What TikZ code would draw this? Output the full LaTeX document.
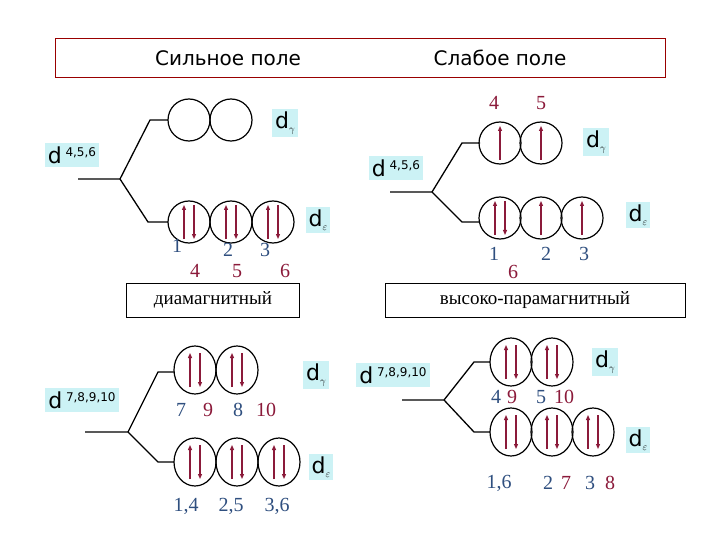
\documentclass[tikz,border=0pt]{standalone}
\usepackage{fontspec}
\setmainfont{Liberation Serif}
\newfontfamily\sansf{DejaVu Sans}
\usetikzlibrary{arrows.meta,calc,shapes.geometric}
\definecolor{arr}{HTML}{8B1A3A}
\definecolor{nb}{HTML}{2F4F7F}
\definecolor{cy}{HTML}{CCF2F5}
\newcommand\dsup[1]{\,\raisebox{7pt}{\fontsize{12}{12}\selectfont #1}}
\newcommand\subg{\raisebox{-4pt}{\fontsize{10}{10}\selectfont$\gamma$}}
\newcommand\sube{\raisebox{-4pt}{\fontsize{10}{10}\selectfont$\varepsilon$}}
\newcommand\spud[1]{\draw[sp] ($(#1)+(-5,17)$) -- ($(#1)+(-5,-17)$); \draw[sp] ($(#1)+(5,-17)$) -- ($(#1)+(5,17)$);}
\newcommand\spuu[1]{\draw[sp] ($(#1)+(0,17)$) -- ($(#1)+(0,-17)$);}
\begin{document}
\begin{tikzpicture}[x=1pt,y=-1pt,
 orb/.style={draw,line width=1.2pt,ellipse,minimum width=42pt,minimum height=42pt,inner sep=0pt},
 orbe/.style={draw,line width=1.2pt,ellipse,minimum width=42pt,minimum height=48pt,inner sep=0pt},
 lvl/.style={line width=1.3pt},
 sp/.style={-{Triangle[length=5pt,width=4pt]},line width=1.1pt,arr},
 lab/.style={fill=cy,font=\sansf\fontsize{22}{24}\selectfont,inner sep=3pt},
 nb/.style={text=nb,font=\fontsize{20}{22}\selectfont},
 nr/.style={text=arr,font=\fontsize{20}{22}\selectfont},
 bx/.style={draw,line width=0.6pt,font=\fontsize{19}{21}\selectfont}]
\useasboundingbox (0,0) rectangle (720,540);
\draw[red!60!black,line width=0.5pt] (55,38) rectangle (665,77);
\node[font=\sansf\fontsize{20}{22}\selectfont] (t1) at (228,58) {Сильное поле};
\node[font=\sansf\fontsize{20}{22}\selectfont] (t2) at (500,58) {Слабое поле};
% ===== top left
\node[lab] (L1) at (72,155) {d\dsup{4,5,6}};
\coordinate (a0) at (78,179); \coordinate (a1) at (120,179);
\draw[lvl] (a0) -- (a1) -- (150,120) -- (168,120);
\draw[lvl] (a1) -- (148,222) -- (168,222);
\node[orb] (o1) at (189,120) {}; \node[orb] (o2) at (231,120) {};
\node[orb] (o3) at (189,222) {}; \node[orb] (o4) at (231,222) {}; \node[orb] (o5) at (273,222) {};
\spud{o3}\spud{o4}\spud{o5}
\node[lab] (g1) at (285,123) {d\subg};
\node[lab] (e1) at (318,220) {d\sube};
\node[nb] at (177,246) {1}; \node[nb] at (228,250) {2}; \node[nb] at (265,250) {3};
\node[nr] at (195,271) {4}; \node[nr] at (237,271) {5}; \node[nr] at (285,271) {6};
\node[bx,minimum width=173pt,minimum height=34pt] (b1) at (213,300) {диамагнитный};
% ===== top right
\node[lab] (L2) at (396,168) {d\dsup{4,5,6}};
\coordinate (c1) at (432,192);
\draw[lvl] (390,192) -- (c1) -- (462,143) -- (480,143);
\draw[lvl] (c1) -- (462,222) -- (480,222);
\node[orb] (p1) at (500,143) {}; \node[orb] (p2) at (541,143) {};
\node[orb] (p3) at (500,218) {}; \node[orb] (p4) at (541,218) {}; \node[orb] (p5) at (582,218) {};
\spuu{p1}\spuu{p2}\spud{p3}\spuu{p4}\spuu{p5}
\node[nr] at (494,103) {4}; \node[nr] at (541,103) {5};
\node[lab] (g2) at (596,142) {d\subg};
\node[lab] (e2) at (638,215) {d\sube};
\node[nb] at (494,254) {1}; \node[nb] at (546,254) {2}; \node[nb] at (584,254) {3};
\node[nr] at (513,272) {6};
\node[bx,minimum width=300pt,minimum height=34pt] (b2) at (535,300) {высоко-парамагнитный};
% ===== bottom left
\node[lab] (L3) at (82,400) {d\dsup{7,8,9,10}};
\coordinate (d1) at (128,432);
\draw[lvl] (85,432) -- (d1) -- (158,372) -- (174,372);
\draw[lvl] (d1) -- (158,462) -- (174,462);
\node[orbe] (q1) at (195,370) {}; \node[orbe] (q2) at (237,370) {};
\node[orbe] (q3) at (195,462) {}; \node[orbe] (q4) at (237,462) {}; \node[orbe] (q5) at (279,462) {};
\spud{q1}\spud{q2}\spud{q3}\spud{q4}\spud{q5}
\node[lab] (g3) at (316,375) {d\subg};
\node[lab] (e3) at (321,467) {d\sube};
\node[nb] at (181,410) {7}; \node[nr] at (208,410) {9}; \node[nb] at (238,410) {8}; \node[nr] at (266,410) {10};
\node[nb] at (186,506) {1,4}; \node[nb] at (231,506) {2,5}; \node[nb] at (277,506) {3,6};
% ===== bottom right
\node[lab] (L4) at (393,375) {d\dsup{7,8,9,10}};
\coordinate (f1) at (444,400);
\draw[lvl] (402,400) -- (f1) -- (474,362) -- (490,362);
\draw[lvl] (f1) -- (474,432) -- (490,432);
\node[orbe] (r1) at (511,362) {}; \node[orbe] (r2) at (552,362) {};
\node[orbe] (r3) at (511,432) {}; \node[orbe] (r4) at (552,432) {}; \node[orbe] (r5) at (593,432) {};
\spud{r1}\spud{r2}\spud{r3}\spud{r4}\spud{r5}
\node[lab] (g4) at (605,362) {d\subg};
\node[lab] (e4) at (638,440) {d\sube};
\node[nb] at (496,397) {4}; \node[nr] at (512,397) {9}; \node[nb] at (541,397) {5}; \node[nr] at (564,397) {10};
\node[nb] at (499,483) {1,6}; \node[nb] at (548,483) {2}; \node[nr] at (566,483) {7}; \node[nb] at (590,483) {3}; \node[nr] at (610,483) {8};
\end{tikzpicture}
\end{document}
